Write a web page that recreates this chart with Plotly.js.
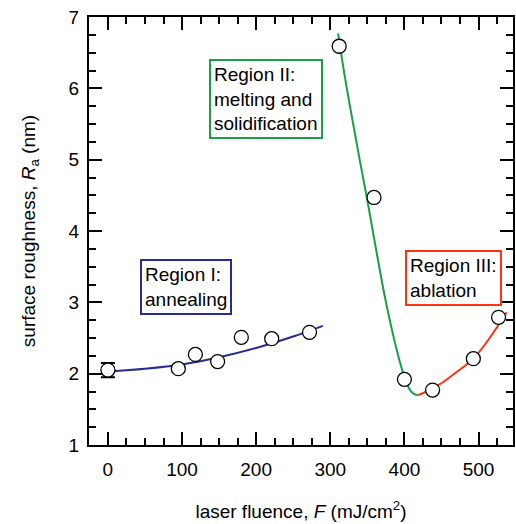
<!DOCTYPE html>
<html>
<head>
<meta charset="utf-8">
<script src="https://cdn.plot.ly/plotly-3.0.1.min.js"></script>
<style>html,body{margin:0;padding:0;background:#fff;}#chart{width:516px;height:524px;}</style>
</head>
<body>
<div id="chart"></div>
<script>
// Measured data points
const fluence   = [0, 95, 118, 148, 180, 221, 272, 312, 359, 400, 438, 493, 527];
const roughness = [2.05, 2.07, 2.27, 2.17, 2.51, 2.49, 2.58, 6.59, 4.47, 1.92, 1.77, 2.21, 2.79];
const roughnessErr = [0.1, 0, 0, 0, 0, 0, 0, 0, 0, 0, 0, 0, 0];

// Guide curves
const curveI_x = [0, 50, 100, 150, 200, 250, 290];
const curveI_y = [2.03, 2.07, 2.13, 2.23, 2.36, 2.52, 2.67];
const curveII_x = [310.5, 320, 330, 340, 350, 362, 373, 385, 393, 398, 402, 406, 410, 414, 418];
const curveII_y = [6.77, 6.14, 5.55, 4.98, 4.43, 3.73, 3.11, 2.53, 2.20, 2.02, 1.90, 1.80, 1.74, 1.71, 1.70];
const curveIII_x = [418, 430, 452, 470, 493, 515, 538];
const curveIII_y = [1.70, 1.75, 1.88, 2.02, 2.21, 2.50, 2.86];

const xTicks = [0, 100, 200, 300, 400, 500];
const yTicks = [1, 2, 3, 4, 5, 6, 7];

const blue = '#2a2a96', green = '#1a9e4a', red = '#ff3311';
const FONT = 'Liberation Sans, Arial, Helvetica, sans-serif';

const errIdx = roughnessErr.map((e, i) => e > 0 ? i : -1).filter(i => i >= 0);
const ptIdx = roughnessErr.map((e, i) => e > 0 ? -1 : i).filter(i => i >= 0);

const traces = [
  {x: curveI_x, y: curveI_y, mode: 'lines', line: {color: blue, width: 2, shape: 'spline'}, hoverinfo: 'skip'},
  {x: curveII_x, y: curveII_y, mode: 'lines', line: {color: green, width: 2, shape: 'spline'}, hoverinfo: 'skip'},
  {x: curveIII_x, y: curveIII_y, mode: 'lines', line: {color: red, width: 2, shape: 'spline'}, hoverinfo: 'skip'},
  {x: errIdx.map(i => fluence[i]), y: errIdx.map(i => roughness[i]), mode: 'markers',
   error_y: {type: 'data', array: errIdx.map(i => roughnessErr[i]), color: '#000', thickness: 2, width: 7},
   marker: {size: 14, color: '#fff', line: {color: '#000', width: 1.3}}},
  {x: ptIdx.map(i => fluence[i]), y: ptIdx.map(i => roughness[i]), mode: 'markers',
   marker: {size: 14, color: '#fff', line: {color: '#000', width: 1.3}}}
];

const axisCommon = {
  showline: true, linecolor: '#000', linewidth: 2, mirror: 'ticks',
  ticks: 'inside', ticklen: 13, tickwidth: 2, tickcolor: '#000',
  showgrid: false, zeroline: false,
  tickfont: {family: FONT, size: 19, color: '#000'}
};

const layout = {
  width: 516, height: 524,
  margin: {l: 89, r: 3, t: 17, b: 79},
  paper_bgcolor: '#fff', plot_bgcolor: '#fff',
  showlegend: false,
  font: {family: FONT, color: '#000'},
  xaxis: Object.assign({}, axisCommon, {
    range: [-25.5, 546.5], tickvals: xTicks, ticktext: xTicks.map(String),
    minor: {dtick: 25, tick0: 0, ticks: 'inside', ticklen: 7, tickwidth: 2, tickcolor: '#000'},
    ticklabelstandoff: 6,
    title: {text: 'laser fluence, <i>F</i> (mJ/cm<sup>2</sup>)', font: {family: FONT, size: 19, color: '#000'}, standoff: 26}
  }),
  yaxis: Object.assign({}, axisCommon, {
    range: [1, 7], tickvals: yTicks, ticktext: yTicks.map(String),
    minor: {dtick: 0.25, tick0: 1, ticks: 'inside', ticklen: 7, tickwidth: 2, tickcolor: '#000'},
    ticklabelstandoff: 4,
    title: {text: 'surface roughness, <i>R</i><sub>a</sub> (nm)', font: {family: FONT, size: 19, color: '#000'}, standoff: 28}
  }),
  annotations: [
    {x: 43.7, y: 3.61, xref: 'x', yref: 'y', xanchor: 'left', yanchor: 'top', showarrow: false, align: 'left',
     text: 'Region I:<br>annealing', font: {family: FONT, size: 19, color: '#000'},
     bordercolor: blue, borderwidth: 2, borderpad: 3, bgcolor: '#fff'},
    {x: 136.3, y: 6.41, xref: 'x', yref: 'y', xanchor: 'left', yanchor: 'top', showarrow: false, align: 'left',
     text: 'Region II:<br>melting and<br>solidification', font: {family: FONT, size: 19, color: '#000'},
     bordercolor: green, borderwidth: 2, borderpad: 3, bgcolor: '#fff'},
    {x: 400.8, y: 3.73, xref: 'x', yref: 'y', xanchor: 'left', yanchor: 'top', showarrow: false, align: 'left',
     text: 'Region III:<br>ablation', font: {family: FONT, size: 19, color: '#000'},
     bordercolor: red, borderwidth: 2, borderpad: 3, bgcolor: '#fff'}
  ]
};

Plotly.newPlot('chart', traces, layout, {displayModeBar: false, staticPlot: true});
</script>
</body>
</html>
